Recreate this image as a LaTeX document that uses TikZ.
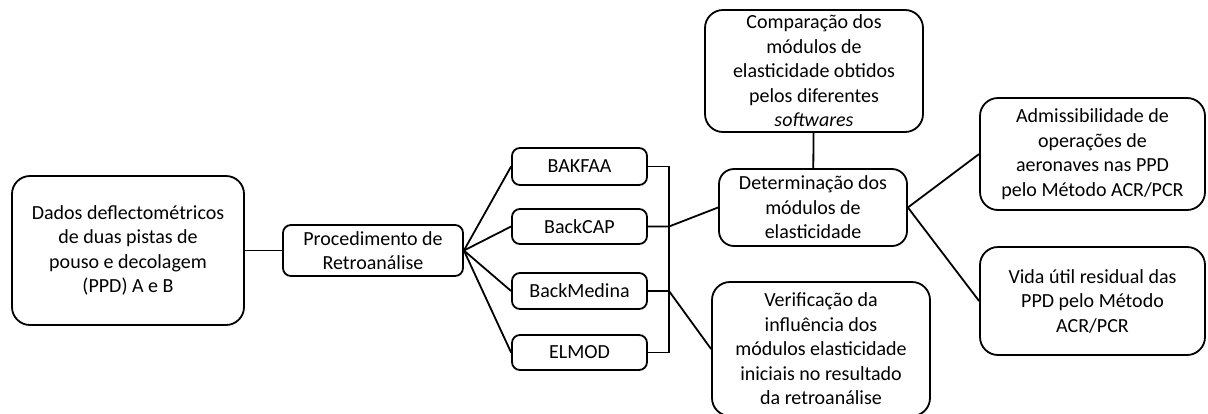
\documentclass[tikz,border=0pt]{standalone}
\usepackage{fontspec}
\setmainfont{Carlito}
\usetikzlibrary{positioning}

\begin{document}
\begin{tikzpicture}[x=1pt,y=-1pt,line width=1.8pt,
  caixa/.style={draw,rounded corners=18pt,align=center,inner sep=0pt,
    font=\fontsize{20}{24.5}\selectfont},
  caixap/.style={caixa,rounded corners=8pt}]
\useasboundingbox (0,0) rectangle (1208,413);
\def\bx{669}
\node[caixa,minimum width=232pt,minimum height=149pt] (dados) at (128,250.5)
  {Dados deflectométricos\\de duas pistas de\\pouso e decolagem\\(PPD) A e B};
\node[caixap,minimum width=180pt,minimum height=51pt] (proc) at (373,250.5)
  {Procedimento de\\Retroanálise};
\node[caixap,minimum width=135pt,minimum height=37pt] (bakfaa) at (579.5,166.5) {BAKFAA};
\node[caixap,minimum width=135pt,minimum height=35pt] (backcap) at (579.5,226.5) {BackCAP};
\node[caixap,minimum width=135pt,minimum height=36pt] (backmedina) at (579.5,291) {BackMedina};
\node[caixap,minimum width=135pt,minimum height=35pt] (elmod) at (579.5,352.5) {ELMOD};
\node[caixa,minimum width=218pt,minimum height=122pt] (comp) at (814,71)
  {Comparação dos\\módulos de\\elasticidade obtidos\\pelos diferentes\\\textit{softwares}};
\node[caixa,rounded corners=15pt,minimum width=188pt,minimum height=77pt] (det) at (813,207.5)
  {Determinação dos\\módulos de\\elasticidade};
\node[caixa,minimum width=218pt,minimum height=134pt] (verif) at (821,349)
  {Verificação da\\influência dos\\módulos elasticidade\\iniciais no resultado\\da retroanálise};
\node[caixa,minimum width=225pt,minimum height=112pt] (adm) at (1092.5,154)
  {Admissibilidade de\\operações de\\aeronaves nas PPD\\pelo Método ACR/PCR};
\node[caixa,minimum width=225pt,minimum height=108pt] (vida) at (1092.5,301)
  {Vida útil residual das\\PPD pelo Método\\ACR/PCR};
\coordinate (bt) at (\bx,166.5);
\coordinate (bb) at (\bx,352.5);
\draw (dados) -- (proc);
\foreach \s in {bakfaa,backcap,backmedina,elmod}
  \draw (proc.east) -- (\s.west);
\draw (bakfaa.east) -- (bt) -- (bb) -- (elmod.east);
\draw (backcap.east) -- (backcap.east -| bt) -- (det.west);
\draw (backmedina.east) -- (backmedina.east -| bt) -- (verif.west);
\draw (comp) -- (det);
\draw (det.east) -- (adm.west);
\draw (det.east) -- (vida.west);
\end{tikzpicture}
\end{document}
